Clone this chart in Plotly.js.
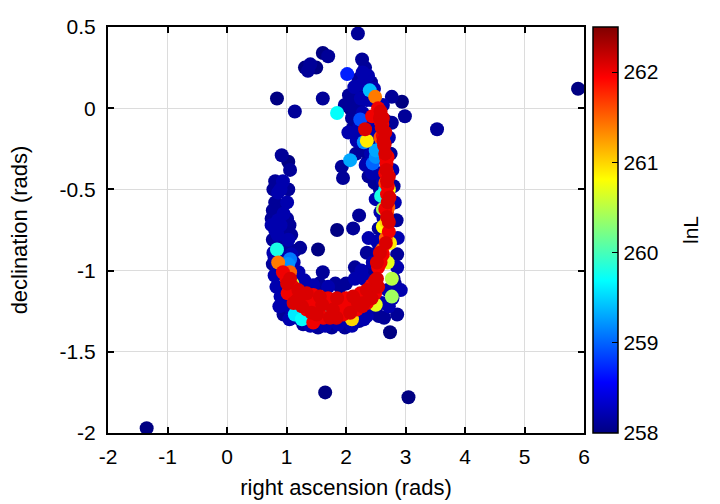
<!DOCTYPE html>
<html>
<head>
<meta charset="utf-8">
<script src="https://cdn.plot.ly/plotly-3.0.1.min.js"></script>
<style>html,body{margin:0;padding:0;background:#fff;}#chart{width:720px;height:504px;}</style>
</head>
<body>
<div id="chart"></div>
<script>
// right ascension (rads)
const ra = [
  -1.35, 5.90, 3.53, 3.05, 1.65, 2.20, 1.61, 1.70, 1.31, 1.40, 1.50, 1.36, 0.84, 1.14, 1.61,
  2.27, 2.32, 2.37, 2.42, 2.47, 2.77, 2.94, 2.99, 2.77,
  2.12, 2.07, 2.10, 2.12, 2.18, 2.20, 2.25, 2.30, 2.28, 2.20, 2.26, 2.30, 2.38, 2.45, 2.48, 2.44,
  2.52, 2.57, 2.62, 2.68, 2.72, 2.75, 2.78, 2.80, 2.82, 2.85, 2.87, 2.86, 2.86, 2.82,
  2.58, 2.55, 2.52, 2.47, 2.35, 2.38, 2.22, 2.12, 1.85, 1.93, 1.95, 2.15, 2.26, 2.17,
  0.92, 1.03, 1.06, 0.81, 0.94, 1.03, 0.86, 0.81, 1.01, 0.92, 0.77, 0.86, 1.01, 0.81, 0.97, 0.90,
  0.77, 1.03, 0.90, 0.78, 0.95, 1.08, 0.77, 1.12, 0.80, 1.23, 1.53, 0.83, 0.90, 1.00, 1.10, 0.85,
  1.61, 1.82, 1.30, 1.45, 2.00, 2.15, 1.20,
  1.18, 1.28, 1.40, 1.53, 1.65, 1.76, 1.87, 1.98, 2.10, 2.22, 2.35, 2.48, 2.60, 2.70, 2.86, 2.74, 2.64, 2.78,
  0.78, 0.90, 0.75, 0.95, 1.05, 0.85, 1.08, 0.92, 1.00, 0.75, 0.83, 0.98, 1.05, 0.80, 1.13,
  2.15, 2.22, 2.32, 2.35, 2.40, 2.33, 2.38, 2.42, 2.17, 2.27, 2.43, 2.50, 2.52, 2.55, 2.58, 2.62, 2.65, 2.63, 2.60, 2.55, 2.48, 2.50,
  2.05, 2.14, 2.21, 2.28, 1.98, 2.04, 2.36, 2.44,
  0.88, 0.95, 1.05, 1.35, 1.62, 1.90, 2.30, 2.55, 2.72, 2.80, 2.92, 1.55, 1.70, 1.90, 2.30, 2.40, 2.45, 1.25, 1.40, 1.15,
  2.02, 1.85, 2.07, 2.40, 2.24, 0.84, 1.14, 1.26, 1.06, 2.50, 2.60, 2.55, 2.48, 1.70, 2.25,
  1.15, 1.65, 2.45, 2.59, 2.50, 2.30, 2.45, 1.03, 2.66,
  2.35, 2.62, 2.74, 2.77, 2.77, 2.10, 2.72, 2.70, 1.95, 1.10, 1.25, 2.05, 2.50, 2.62, 2.68,
  2.49, 2.69, 2.66, 2.71, 0.86, 1.06, 2.61, 2.58, 2.69, 2.67,
  0.94, 1.06, 1.11, 1.20, 1.34, 1.45, 1.56, 1.70, 1.85, 2.00, 2.12, 2.24, 2.35, 2.43, 2.49, 2.54, 2.57,
  1.01, 1.08, 1.18, 1.26, 1.34, 1.42, 1.51, 1.62, 1.73, 1.84, 1.95, 2.07, 2.18, 2.27, 2.35, 2.43, 2.49, 2.54,
  1.00, 1.22, 1.48, 1.78, 2.05, 2.30, 2.45,
  2.54, 2.57, 2.60, 2.62, 2.64, 2.66, 2.68, 2.69, 2.69, 2.70, 2.69, 2.72, 2.67, 2.62, 2.52, 2.44, 2.32, 1.45, 2.62, 2.66,
  2.59, 2.63, 2.67, 2.68, 2.70,
  1.02, 1.12, 1.30, 1.60, 1.90, 2.20, 2.40, 2.52, 2.58,
  2.58, 2.61, 2.65, 2.70, 2.72, 2.66, 2.73, 2.66, 2.72
];
// declination (rads)
const dec = [
  -1.97, 0.12, -0.13, -1.78, -1.75, 0.46, 0.34, 0.32, 0.25, 0.27, 0.25, 0.23, 0.06, -0.02, 0.06,
  0.30, 0.25, 0.20, 0.16, 0.12, 0.07, 0.04, -0.05, -0.09,
  0.05, 0.00, -0.06, -0.12, -0.20, 0.01, 0.06, 0.12, -0.03, -0.10, -0.17, -0.26, -0.08, -0.14, -0.24, -0.33,
  -0.40, -0.50, 0.02, -0.08, -0.18, -0.28, -0.38, -0.48, -0.58, -0.69, -0.80, -0.90, -0.98, -1.08,
  -0.64, -0.74, -0.82, -0.90, -0.89, -0.80, -0.66, -0.74, -0.75, -0.36, -0.43, -0.98, -1.00, -0.28,
  -0.29, -0.33, -0.38, -0.45, -0.45, -0.50, -0.52, -0.58, -0.58, -0.61, -0.63, -0.69, -0.68, -0.75, -0.75, -0.72,
  -0.81, -0.81, -0.83, -0.89, -0.89, -0.90, -0.96, -0.95, -1.03, -0.86, -0.87, -1.10, -1.16, -1.21, -1.26, -0.98,
  -1.01, -1.08, -1.06, -1.09, -1.08, -1.05, -1.01,
  -1.29, -1.33, -1.34, -1.35, -1.34, -1.35, -1.33, -1.35, -1.34, -1.31, -1.28, -1.25, -1.20, -1.12, -1.27, -1.38, -1.29, -1.17,
  -0.50, -0.50, -0.68, -0.65, -0.72, -0.78, -0.78, -0.92, -0.85, -0.72, -0.63, -0.97, -0.98, -0.92, -0.88,
  -0.03, -0.12, -0.05, 0.05, -0.20, -0.35, -0.42, -0.28, 0.10, 0.15, 0.05, -0.05, -0.15, -0.30, -0.40, -0.45, -0.58, -0.68, -0.80, -0.88, -0.46, -0.56,
  0.08, 0.13, 0.18, 0.22, 0.02, -0.15, -0.33, -0.40,
  -1.22, -1.27, -1.30, -1.30, -1.31, -1.31, -1.30, -1.28, -1.22, -1.05, -1.12, -1.08, -1.10, -1.10, -1.05, -1.00, -0.95, -1.10, -1.11, -1.05,
  0.21, -0.03, -0.32, 0.11, -0.07, -0.87, -1.27, -1.30, -0.93, -0.30, -0.20, -0.95, -1.13, -1.22, -1.18,
  -1.20, -1.22, -1.10, -0.54, -0.26, -0.21, -0.34, -0.96, -0.50,
  -0.20, -0.73, -0.83, -1.05, -1.16, -1.30, -0.50, -0.95, -1.24, -1.08, -1.19, -1.21, -1.21, -0.62, -0.70,
  0.07, -0.40, -0.46, -0.61, -0.95, -1.01, -0.87, -0.18, -0.64, -0.80,
  -1.01, -1.05, -1.10, -1.12, -1.14, -1.15, -1.16, -1.17, -1.17, -1.17, -1.16, -1.14, -1.12, -1.09, -1.06, -0.98, -0.89,
  -1.08, -1.13, -1.18, -1.22, -1.24, -1.26, -1.27, -1.29, -1.29, -1.29, -1.27, -1.26, -1.24, -1.22, -1.20, -1.17, -1.14, -1.10,
  -1.05, -1.16, -1.22, -1.24, -1.23, -1.20, -1.12,
  0.00, -0.06, -0.12, -0.17, -0.23, -0.28, -0.34, -0.45, -0.53, -0.58, -0.67, -0.76, -0.83, -0.90, -0.95, -0.05, -0.13, -1.32, -0.06, -0.15,
  -0.09, -0.20, -0.30, -0.38, -0.48,
  -1.14, -1.20, -1.18, -1.21, -1.22, -1.20, -1.16, -1.05, -0.95,
  -0.02, -0.10, -0.22, -0.30, -0.42, -0.40, -0.55, -0.62, -0.70
];
// log likelihood
const lnL = [
  258.0, 258.0, 258.1, 258.0, 258.0, 258.1, 258.0, 258.1, 258.0, 258.1, 258.0, 258.1, 258.0, 258.1, 258.1,
  258.1, 258.1, 258.2, 258.1, 258.2, 258.1, 258.0, 258.1, 258.1,
  258.1, 258.0, 258.1, 258.1, 258.2, 258.1, 258.2, 258.1, 258.2, 258.1, 258.2, 258.1, 258.2, 258.2, 258.1, 258.2,
  258.2, 258.1, 258.2, 258.1, 258.2, 258.1, 258.2, 258.1, 258.2, 258.1, 258.2, 258.1, 258.2, 258.1,
  258.2, 258.1, 258.2, 258.1, 258.1, 258.2, 258.1, 258.1, 258.0, 258.1, 258.1, 258.1, 258.2, 258.1,
  258.1, 258.0, 258.1, 258.1, 258.2, 258.1, 258.2, 258.1, 258.2, 258.1, 258.1, 258.2, 258.1, 258.2, 258.1, 258.2,
  258.1, 258.2, 258.1, 258.2, 258.1, 258.2, 258.1, 258.2, 258.2, 258.1, 258.0, 258.2, 258.2, 258.2, 258.2, 258.2,
  258.1, 258.1, 258.2, 258.2, 258.1, 258.2, 258.2,
  258.2, 258.1, 258.2, 258.1, 258.2, 258.1, 258.2, 258.1, 258.2, 258.1, 258.2, 258.1, 258.2, 258.2, 258.1, 258.0, 258.1, 258.2,
  258.1, 258.2, 258.1, 258.2, 258.1, 258.2, 258.1, 258.2, 258.1, 258.2, 258.1, 258.2, 258.1, 258.2, 258.1,
  258.1, 258.2, 258.1, 258.2, 258.1, 258.2, 258.1, 258.2, 258.1, 258.2, 258.1, 258.2, 258.1, 258.2, 258.1, 258.2, 258.1, 258.2, 258.1, 258.2, 258.1, 258.2,
  258.1, 258.2, 258.1, 258.2, 258.1, 258.2, 258.1, 258.2,
  258.2, 258.1, 258.2, 258.1, 258.2, 258.1, 258.2, 258.1, 258.2, 258.1, 258.2, 258.1, 258.2, 258.1, 258.2, 258.1, 258.2, 258.1, 258.2, 258.1,
  258.7, 259.7, 259.3, 259.4, 258.9, 259.8, 259.6, 259.7, 259.1, 259.2, 259.0, 259.6, 259.8, 259.7, 259.4,
  259.5, 259.9, 259.3, 259.8, 259.3, 259.2, 259.0, 259.2, 259.6,
  260.9, 260.8, 260.9, 260.5, 260.4, 261.0, 260.8, 260.7, 260.9, 260.6, 260.9, 260.8, 260.7, 260.4, 261.0,
  261.4, 261.5, 261.6, 261.5, 261.4, 261.5, 261.5, 261.6, 261.6, 261.5,
  262.0, 262.1, 262.0, 262.1, 262.1, 262.0, 262.1, 262.0, 262.1, 262.0, 262.1, 262.0, 262.1, 262.0, 262.1, 262.0, 262.1,
  262.1, 262.0, 262.1, 262.1, 262.0, 262.1, 262.1, 262.0, 262.1, 262.1, 262.0, 262.1, 262.0, 262.1, 262.0, 262.1, 262.0, 262.1,
  262.0, 262.1, 262.0, 262.1, 262.0, 262.1, 262.0,
  262.0, 262.1, 262.1, 262.0, 262.1, 262.1, 262.0, 262.1, 262.0, 262.1, 262.1, 262.0, 262.1, 262.0, 262.1, 262.0, 262.1, 262.0, 262.1, 262.1,
  262.0, 262.1, 262.0, 262.1, 262.0,
  262.0, 262.1, 262.0, 262.1, 262.0, 262.1, 262.0, 262.1, 262.0,
  262.1, 262.0, 262.1, 262.0, 262.1, 262.0, 262.1, 262.0, 262.1
];
const xTicks = [-2, -1, 0, 1, 2, 3, 4, 5, 6];
const xTickText = ['-2', '-1', '0', '1', '2', '3', '4', '5', '6'];
const yTicks = [-2, -1.5, -1, -0.5, 0, 0.5];
const yTickText = ['-2', '-1.5', '-1', '-0.5', '0', '0.5'];
const cTicks = [258, 259, 260, 261, 262];
const cTickText = ['258', '259', '260', '261', '262'];

// draw higher lnL on top
const order = lnL.map((v, i) => i).sort((a, b) => lnL[a] - lnL[b]);
const X = order.map(i => ra[i]);
const Y = order.map(i => dec[i]);
const C = order.map(i => lnL[i]);

const jet = [
  [0, 'rgb(0,0,130)'], [0.125, 'rgb(0,0,255)'], [0.375, 'rgb(0,255,255)'],
  [0.625, 'rgb(255,255,0)'], [0.875, 'rgb(255,0,0)'], [1, 'rgb(128,0,0)']
];
const FONT = 'Liberation Sans, Arial, Helvetica, sans-serif';

const trace = {
  type: 'scatter', mode: 'markers', x: X, y: Y,
  marker: {
    size: 14, color: C, colorscale: jet, cmin: 258, cmax: 262.5, line: {width: 0},
    colorbar: {
      x: 1.019, xanchor: 'left', xpad: 0, y: 0.5, yanchor: 'middle', len: 1, ypad: 0,
      thickness: 25, outlinecolor: '#000', outlinewidth: 1.5,
      tickvals: cTicks, ticktext: cTickText, ticks: 'inside', ticklen: 6, tickcolor: '#000',
      tickfont: {family: FONT, size: 21, color: '#000'}
    }
  },
  showlegend: false, hoverinfo: 'none'
};

const axisBase = {
  showline: true, linecolor: '#000', linewidth: 2, mirror: 'ticks',
  ticks: 'inside', ticklen: 6, tickwidth: 2, tickcolor: '#000',
  showgrid: true, gridcolor: '#dcdcdc', gridwidth: 1, zeroline: false,
  tickfont: {family: FONT, size: 21, color: '#000'}
};

const layout = {
  width: 720, height: 504,
  margin: {l: 108, r: 136, t: 27, b: 71},
  paper_bgcolor: '#fff', plot_bgcolor: '#fff',
  font: {family: FONT, color: '#000'},
  xaxis: Object.assign({}, axisBase, {
    range: [-2, 6], tickvals: xTicks, ticktext: xTickText, ticklabelstandoff: 4,
    title: {text: 'right ascension (rads)', font: {family: FONT, size: 22, color: '#000'}, standoff: 12}
  }),
  yaxis: Object.assign({}, axisBase, {
    range: [-2, 0.5], tickvals: yTicks, ticktext: yTickText, ticklabelstandoff: 6,
    title: {text: 'declination (rads)', font: {family: FONT, size: 22, color: '#000'}, standoff: 26}
  }),
  annotations: [{
    text: 'lnL', xref: 'paper', yref: 'paper', x: 1.2227, y: 0.5,
    xanchor: 'center', yanchor: 'middle', textangle: -90, showarrow: false,
    font: {family: FONT, size: 21, color: '#000'}
  }]
};

Plotly.newPlot('chart', [trace], layout, {staticPlot: true, displayModeBar: false});
</script>
</body>
</html>
